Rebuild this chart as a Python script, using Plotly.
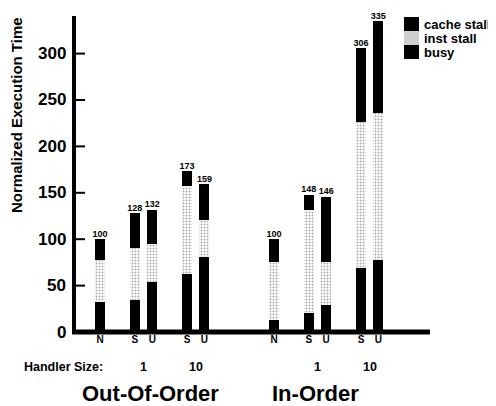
import plotly.graph_objects as go

# ---- data ----
groups = ["Out-Of-Order", "In-Order"]
bar_labels = ["N", "S", "U", "S", "U"]
handler_sizes = ["1", "10"]
series_names = ["cache stall", "inst stall", "busy"]
y_ticks = [0, 50, 100, 150, 200, 250, 300]
busy = {"Out-Of-Order": [32, 35, 54, 63, 81], "In-Order": [13, 20, 29, 69, 78]}
inst_stall = {"Out-Of-Order": [46, 55, 41, 94, 40], "In-Order": [62, 112, 46, 157, 158]}
cache_stall = {"Out-Of-Order": [22, 38, 37, 16, 38], "In-Order": [25, 16, 71, 80, 99]}
totals = {"Out-Of-Order": [100, 128, 132, 173, 159], "In-Order": [100, 148, 146, 306, 335]}

# ---- layout slots (positions on a numeric x axis) ----
slot = [0, 2, 3, 5, 6]
group_offset = 10
xs, b_all, i_all, c_all, t_all, tick_text = [], [], [], [], [], []
for gi, g in enumerate(groups):
    for k in range(len(bar_labels)):
        xs.append(slot[k] + gi * group_offset)
        tick_text.append(bar_labels[k])
    b_all += busy[g]
    i_all += inst_stall[g]
    c_all += cache_stall[g]
    t_all += totals[g]

FONT = "Liberation Sans, Arial, Helvetica, sans-serif"
W = 0.58
STIPPLE = dict(shape=".", fgcolor="#555555", bgcolor="white", size=3, solidity=0.35, fillmode="overlay")
# page body has an 8px margin, so figure coords = page coords - 8
FW, FH = 488, 398
L, T = 66, 8
PW, PH = 356, 316
R, B = FW - L - PW, FH - T - PH
PB = T + PH


def px(fx):
    return (fx - L) / PW


def py(fy):
    return (PB - fy) / PH


fig = go.Figure()
fig.add_bar(x=xs, y=b_all, name="busy", width=W, marker=dict(color="black", line=dict(width=0)))
fig.add_bar(x=xs, y=i_all, name="inst stall", width=W,
            marker=dict(color="white", line=dict(width=0), pattern=STIPPLE))
fig.add_bar(x=xs, y=c_all, name="cache stall", width=W, marker=dict(color="black", line=dict(width=0)))
fig.add_scatter(x=xs, y=t_all, mode="text", text=[str(t) for t in t_all],
                textposition="top center", showlegend=False, hoverinfo="skip", cliponaxis=False,
                textfont=dict(family=FONT, size=9, color="black", weight="bold"))

annotations = []
shapes = []

# axis lines and y ticks
shapes.append(dict(type="line", xref="paper", yref="paper", x0=0, x1=0, y0=0, y1=1,
                   line=dict(color="black", width=4)))
shapes.append(dict(type="line", xref="paper", yref="paper", x0=-2 / PW, x1=1, y0=0, y1=0,
                   line=dict(color="black", width=5)))
for v in y_ticks:
    if v > 0:
        shapes.append(dict(type="line", xref="paper", yref="y", x0=0, x1=11 / PW, y0=v, y1=v,
                           line=dict(color="black", width=2)))
    annotations.append(dict(text=str(v), x=px(60), xref="paper", y=v, yref="y", showarrow=False,
                            xanchor="right", yanchor="middle",
                            font=dict(family=FONT, size=17, color="black", weight="bold")))

annotations.append(dict(text="Handler Size:", x=px(14), xref="paper", y=-0.11, yref="paper",
                        showarrow=False, xanchor="left", yanchor="middle",
                        font=dict(family=FONT, size=12.5, color="black", weight="bold")))
for gi, g in enumerate(groups):
    for si, s in enumerate(handler_sizes):
        xc = (slot[1 + 2 * si] + slot[2 + 2 * si]) / 2 + gi * group_offset
        annotations.append(dict(text=s, x=xc, xref="x", y=-0.11, yref="paper", showarrow=False,
                                xanchor="center", yanchor="middle",
                                font=dict(family=FONT, size=12.5, color="black", weight="bold")))
    annotations.append(dict(text=g, x=[2.9, 12.4][gi], xref="x", y=-0.195, yref="paper",
                            showarrow=False, xanchor="center", yanchor="middle",
                            font=dict(family=FONT, size=22, color="black", weight="bold")))
annotations.append(dict(text="Normalized Execution Time", textangle=-90, x=px(8), xref="paper",
                        y=py(107), yref="paper", showarrow=False, xanchor="center",
                        yanchor="middle", font=dict(family=FONT, size=15, color="black", weight="bold")))

# hand-made legend (swatches stacked, as in the original)
sw_top = [9, 23, 37]
sw_bot = [23, 37, 51]
sw_fill = ["black", "#cfcfcf", "black"]
for k, name in enumerate(series_names):
    shapes.append(dict(type="rect", xref="paper", yref="paper", x0=px(396), x1=px(411),
                       y0=py(sw_bot[k]), y1=py(sw_top[k]), fillcolor=sw_fill[k], line=dict(width=0)))
    annotations.append(dict(text=name, x=px(414), xref="paper", y=py((sw_top[k] + sw_bot[k]) / 2),
                            yref="paper", showarrow=False, xanchor="left", yanchor="middle",
                            font=dict(family=FONT, size=13, color="black", weight="bold")))

fig.update_layout(
    width=FW, height=FH,
    margin=dict(l=L, r=R, t=T, b=B),
    paper_bgcolor="white", plot_bgcolor="white",
    barmode="stack", bargap=0,
    showlegend=False,
    annotations=annotations,
    shapes=shapes,
    font=dict(family=FONT, color="black"),
)
fig.update_xaxes(range=[-1.5, 18.97], tickmode="array", tickvals=xs, ticktext=tick_text,
                 showline=False, ticks="", showgrid=False, zeroline=False, automargin=False,
                 tickfont=dict(family=FONT, size=10, color="black", weight="bold"))
fig.update_yaxes(range=[0, 340.5], showline=False, ticks="", showticklabels=False,
                 showgrid=False, zeroline=False, automargin=False)

fig.write_html("out.html")
